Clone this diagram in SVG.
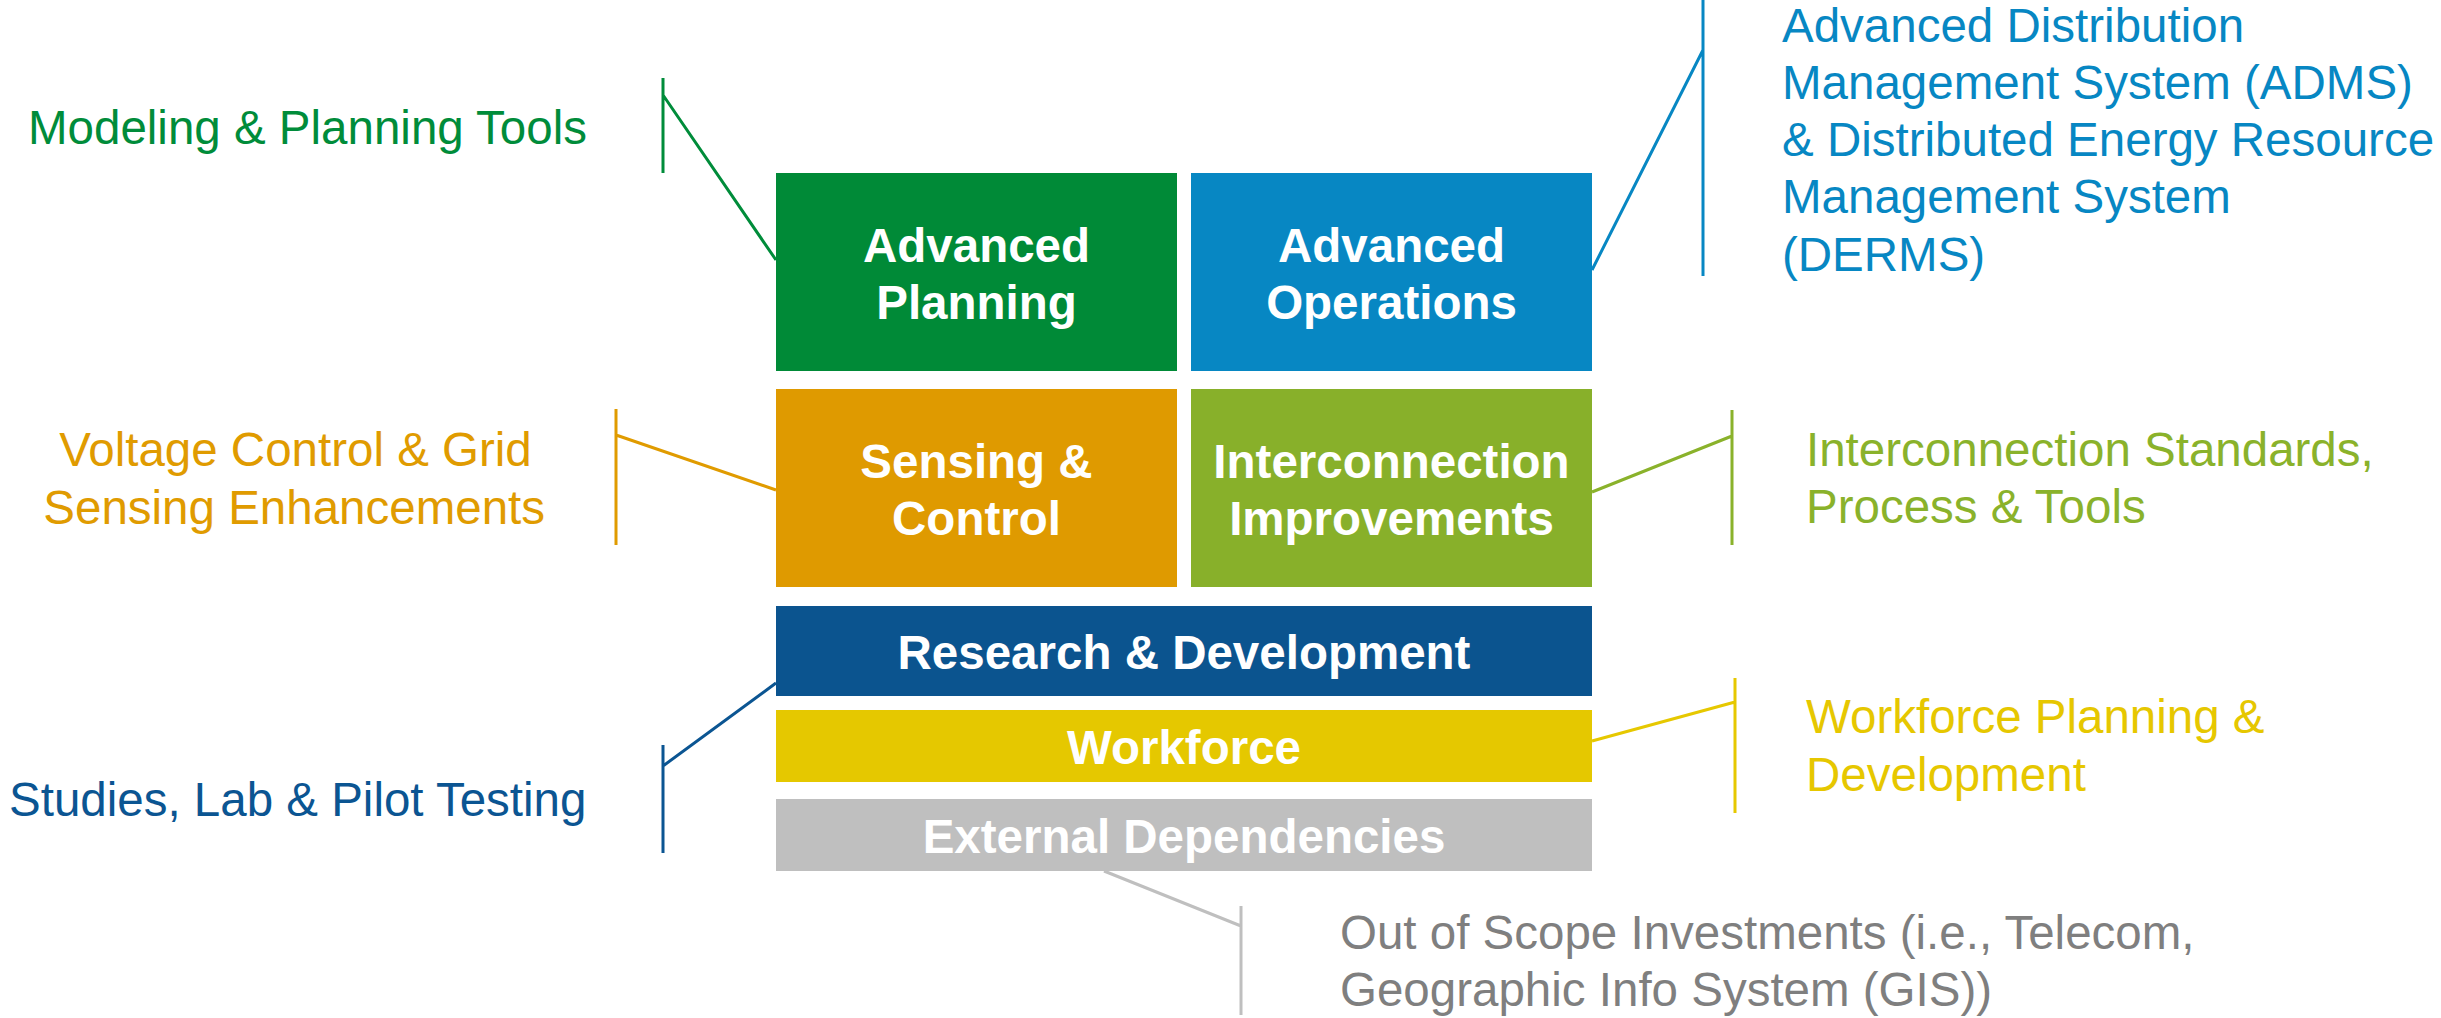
<svg xmlns="http://www.w3.org/2000/svg" width="2441" height="1018" viewBox="0 0 2441 1018">
  <style>
    .box-label { font-family: "Liberation Sans", Arial, sans-serif; font-weight: bold; font-size: 47.5px; fill: #ffffff; text-anchor: middle; }
    .note { font-family: "Liberation Sans", Arial, sans-serif; font-size: 47.5px; }
    .conn { fill: none; stroke-width: 3; }
  </style>
  <rect width="2441" height="1018" fill="#ffffff"/>

  <!-- connectors: bracket line plus slanted leader to each block -->
  <g id="connectors">
    <path class="conn" stroke="#008C3A" d="M663,78 V173 M663,95 L776,260"/>
    <path class="conn" stroke="#0787C3" d="M1703,0 V276 M1703,50 L1592,270"/>
    <path class="conn" stroke="#E09B00" d="M616,409 V545 M616,435 L776,490"/>
    <path class="conn" stroke="#8AB22B" d="M1732,410 V545 M1732,436 L1592,492"/>
    <path class="conn" stroke="#0B5592" d="M663,745 V853 M663,766 L776,683"/>
    <path class="conn" stroke="#E6C800" d="M1735,678 V813 M1735,702 L1592,741"/>
    <path class="conn" stroke="#BFBFBF" d="M1241,906 V1015 M1241,926 L1104,871"/>
  </g>

  <g id="advanced-planning">
    <rect x="776" y="173" width="401" height="198" fill="#008A37"/>
    <text class="box-label" x="976.5" y="262">Advanced</text>
    <text class="box-label" x="976.5" y="319">Planning</text>
  </g>
  <g id="advanced-operations">
    <rect x="1191" y="173" width="401" height="198" fill="#0787C3"/>
    <text class="box-label" x="1391.5" y="262">Advanced</text>
    <text class="box-label" x="1391.5" y="319">Operations</text>
  </g>
  <g id="sensing-control">
    <rect x="776" y="389" width="401" height="198" fill="#DF9A00"/>
    <text class="box-label" x="976.5" y="478">Sensing &amp;</text>
    <text class="box-label" x="976.5" y="535">Control</text>
  </g>
  <g id="interconnection-improvements">
    <rect x="1191" y="389" width="401" height="198" fill="#88B02A"/>
    <text class="box-label" x="1391.5" y="478">Interconnection</text>
    <text class="box-label" x="1391.5" y="535">Improvements</text>
  </g>
  <g id="research-development">
    <rect x="776" y="606" width="816" height="90" fill="#0B548F"/>
    <text class="box-label" x="1184" y="669">Research &amp; Development</text>
  </g>
  <g id="workforce">
    <rect x="776" y="710" width="816" height="72" fill="#E5C800"/>
    <text class="box-label" x="1184" y="764">Workforce</text>
  </g>
  <g id="external-dependencies">
    <rect x="776" y="799" width="816" height="72" fill="#BFBFBF"/>
    <text class="box-label" x="1184" y="853">External Dependencies</text>
  </g>

  <g id="modeling-planning-tools">
    <text class="note" x="28" y="144" fill="#008C3A">Modeling &amp; Planning Tools</text>
  </g>
  <g id="adms-derms">
    <text class="note" fill="#0787C3">
      <tspan x="1782" y="42">Advanced Distribution</tspan>
      <tspan x="1782" y="99">Management System (ADMS)</tspan>
      <tspan x="1782" y="156">&amp; Distributed Energy Resource</tspan>
      <tspan x="1782" y="213">Management System</tspan>
      <tspan x="1782" y="271">(DERMS)</tspan>
    </text>
  </g>
  <g id="voltage-grid-sensing">
    <text class="note" fill="#E09B00" text-anchor="end">
      <tspan x="545" y="466">Voltage Control &amp; Grid</tspan>
      <tspan x="545" y="524">Sensing Enhancements</tspan>
    </text>
  </g>
  <g id="interconnection-standards">
    <text class="note" fill="#8AB22B">
      <tspan x="1806" y="466">Interconnection Standards,</tspan>
      <tspan x="1806" y="523">Process &amp; Tools</tspan>
    </text>
  </g>
  <g id="studies-lab-pilot">
    <text class="note" x="9" y="816" fill="#0B5592">Studies, Lab &amp; Pilot Testing</text>
  </g>
  <g id="workforce-planning">
    <text class="note" fill="#E6C700">
      <tspan x="1806" y="733">Workforce Planning &amp;</tspan>
      <tspan x="1806" y="791">Development</tspan>
    </text>
  </g>
  <g id="out-of-scope">
    <text class="note" fill="#7F7F7F">
      <tspan x="1340" y="949">Out of Scope Investments (i.e., Telecom,</tspan>
      <tspan x="1340" y="1006">Geographic Info System (GIS))</tspan>
    </text>
  </g>
</svg>
